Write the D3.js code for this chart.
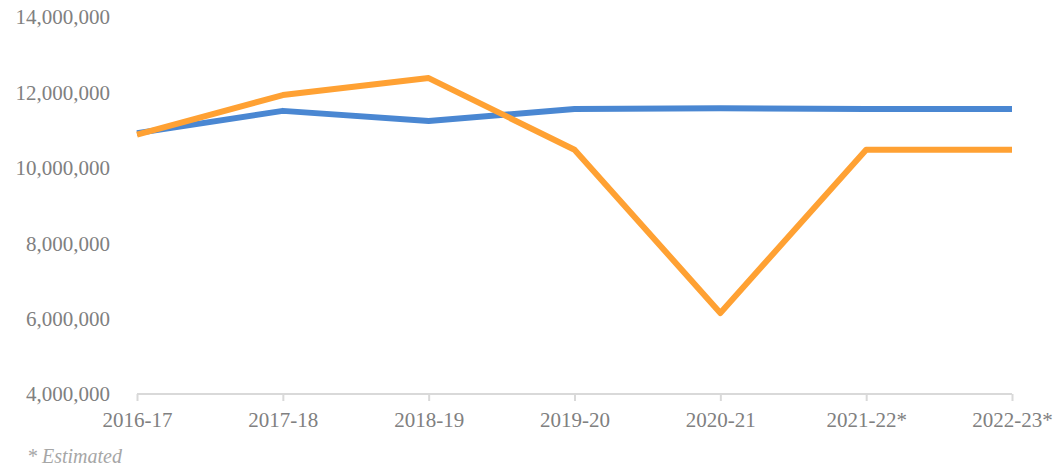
<!DOCTYPE html>
<html><head><meta charset="utf-8">
<script src="https://cdn.jsdelivr.net/npm/d3@7"></script>
<style>body{margin:0;background:#fff;} svg{display:block;}</style>
</head><body>
<svg id="chart" width="1055" height="471"></svg>
<script>
const categories = ["2016-17","2017-18","2018-19","2019-20","2020-21","2021-22*","2022-23*"];
const seriesBlue = [10920000, 11510000, 11240000, 11560000, 11580000, 11560000, 11560000];
const seriesOrange = [10880000, 11930000, 12380000, 10480000, 6150000, 10480000, 10480000];
const yTicks = [4000000, 6000000, 8000000, 10000000, 12000000, 14000000];
const footnote = "* Estimated";

const svg = d3.select("#chart");
const font = "'Liberation Serif', 'DejaVu Serif', serif";
const x = d3.scalePoint().domain(categories).range([137, 1012]);
const y = d3.scaleLinear().domain([4000000, 14000000]).range([394, 17]);

// y axis labels
const fmt = d3.format(",");
svg.append("g").selectAll("text").data(yTicks).join("text")
  .attr("x", 110).attr("y", d => y(d)).attr("dy", "0.35em")
  .attr("text-anchor", "end").attr("font-family", font).attr("font-size", 21)
  .attr("fill", "#808080").text(d => fmt(d));

// x axis
const xAxis = d3.axisBottom(x).tickSize(7).tickPadding(11).tickSizeOuter(0);
const gx = svg.append("g").attr("transform", `translate(0,${y(4000000)})`).call(xAxis);
gx.select(".domain").attr("stroke", "#d9d9d9").attr("stroke-width", 2).attr("d", `M${x(categories[0])},0H${x(categories[categories.length-1])}`);
gx.selectAll(".tick line").attr("stroke", "#d9d9d9").attr("stroke-width", 2);
gx.selectAll(".tick text").attr("font-family", font).attr("font-size", 21).attr("fill", "#808080");

const line = d3.line().x((d, i) => x(categories[i])).y(d => y(d));
svg.append("path").datum(seriesBlue).attr("d", line).attr("fill", "none")
  .attr("stroke", "#4A87D2").attr("stroke-width", 6).attr("stroke-linejoin", "round");
svg.append("path").datum(seriesOrange).attr("d", line).attr("fill", "none")
  .attr("stroke", "#FFA133").attr("stroke-width", 6).attr("stroke-linejoin", "round");

svg.append("text").attr("x", 27).attr("y", 463).attr("font-family", font)
  .attr("font-style", "italic").attr("font-size", 20).attr("fill", "#a6a6a6").text(footnote);
</script>
</body></html>
